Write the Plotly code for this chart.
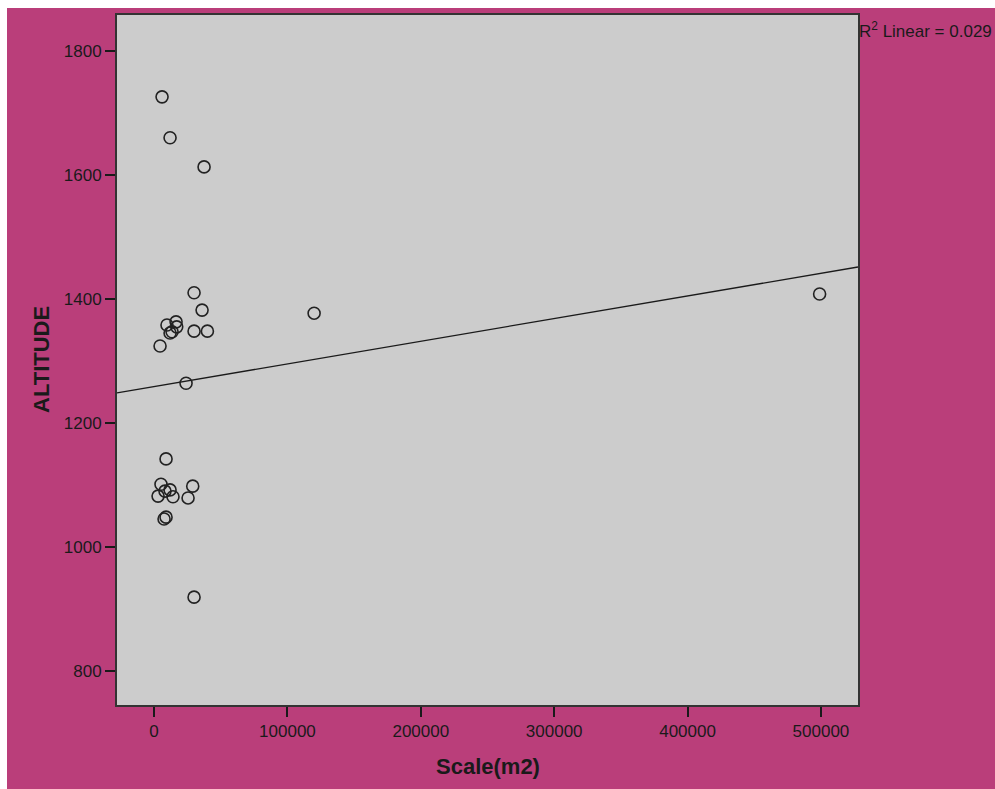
import plotly.graph_objects as go

scale_m2 = [6000, 12000, 37500, 30000, 36000, 9700, 16500, 17000, 13500, 12000, 30000, 40000,
            4500, 120000, 24000, 499000, 9000, 5200, 3000, 8200, 12000, 14200, 29000, 25500,
            9000, 7500, 30000]
altitude = [1726, 1660, 1613, 1410, 1382, 1358, 1363, 1355, 1347, 1345, 1348, 1348,
            1324, 1377, 1264, 1408, 1142, 1101, 1082, 1090, 1092, 1081, 1098, 1079,
            1048, 1045, 919]

line_x = [-27778, 527778]
line_y = [1248.5, 1451.5]

x_ticks = [0, 100000, 200000, 300000, 400000, 500000]
y_ticks = [800, 1000, 1200, 1400, 1600, 1800]

MAGENTA = "#BA3E7A"
FONT = "Liberation Sans, Arial, sans-serif"

fig = go.Figure()
fig.add_trace(go.Scatter(x=line_x, y=line_y, mode="lines",
                         line=dict(color="#1a1a1a", width=1.3), hoverinfo="skip",
                         showlegend=False))
fig.add_trace(go.Scatter(x=scale_m2, y=altitude, mode="markers",
                         marker=dict(symbol="circle-open", size=12,
                                     color="#222222", line=dict(width=1.6, color="#222222")),
                         showlegend=False))

W, H = 995, 789
pl, pr, pt, pb = 117, 858, 15, 705
pw, ph = pr - pl, pb - pt

def px2paperx(px):
    return (px - pl) / pw

def py2papery(py):
    return (pb - py) / ph

fig.update_layout(
    width=W, height=H,
    margin=dict(l=pl, r=W - pr, t=pt, b=H - pb, pad=0),
    paper_bgcolor=MAGENTA,
    plot_bgcolor="#CCCCCC",
    font=dict(family=FONT, color="#1a1a1a", size=17),
    xaxis=dict(range=[-27778, 527778], tickvals=x_ticks, ticktext=[str(v) for v in x_ticks],
               ticks="outside", ticklen=10, tickwidth=1.5, tickcolor="#1a1a1a",
               showgrid=False, zeroline=False, showline=True, mirror=True,
               linecolor="#333333", linewidth=2, tickfont=dict(size=17)),
    yaxis=dict(range=[745, 1858], tickvals=y_ticks, ticktext=[str(v) for v in y_ticks],
               ticks="outside", ticklen=10, tickwidth=1.5, tickcolor="#1a1a1a",
               showgrid=False, zeroline=False, showline=True, mirror=True,
               linecolor="#333333", linewidth=2, tickfont=dict(size=17)),
    shapes=[
        dict(type="rect", xref="paper", yref="paper",
             x0=px2paperx(-5), x1=px2paperx(7), y0=py2papery(H + 5), y1=py2papery(-5),
             fillcolor="white", line=dict(width=0), layer="below"),
        dict(type="rect", xref="paper", yref="paper",
             x0=px2paperx(-5), x1=px2paperx(W + 5), y0=py2papery(8), y1=py2papery(-5),
             fillcolor="white", line=dict(width=0), layer="below"),
    ],
    annotations=[
        dict(text="<b>ALTITUDE</b>", xref="paper", yref="paper",
             x=px2paperx(41), y=py2papery(360), textangle=-90, showarrow=False,
             font=dict(size=22, family=FONT, color="#1a1a1a"), xanchor="center", yanchor="middle"),
        dict(text="<b>Scale(m2)</b>", xref="paper", yref="paper",
             x=px2paperx(488), y=py2papery(766), showarrow=False,
             font=dict(size=22, family=FONT, color="#1a1a1a"), xanchor="center", yanchor="middle"),
        dict(text="R<sup>2</sup> Linear = 0.029", xref="paper", yref="paper",
             x=px2paperx(857), y=py2papery(30), showarrow=False,
             font=dict(size=17, family=FONT, color="#1a1a1a"), xanchor="left", yanchor="middle"),
    ],
)

fig.write_html("out.html", config={"displayModeBar": False},
               post_script="document.body.style.margin='0px';")
